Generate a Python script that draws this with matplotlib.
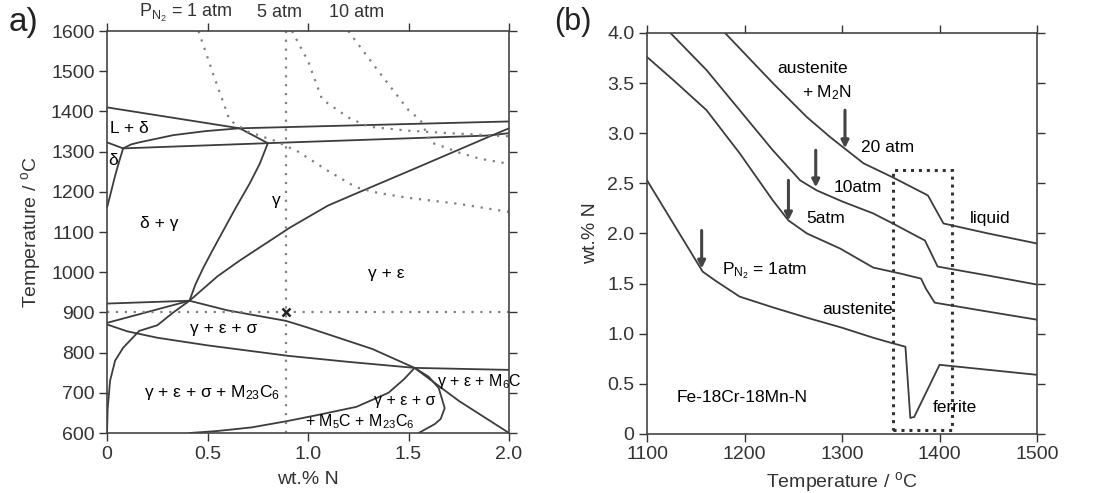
import numpy as np
import matplotlib.pyplot as plt
from matplotlib.patches import Rectangle

plt.rcParams['font.family'] = ['Liberation Sans', 'DejaVu Sans']
plt.rcParams['mathtext.fontset'] = 'custom'
plt.rcParams['mathtext.rm'] = 'Liberation Sans'
plt.rcParams['mathtext.it'] = 'Liberation Sans'

# ---------------- panel a) phase diagram, x = wt.% N, y = temperature ----------------
liq_x = [0, 0.66]
liq_T = [1410, 1358]
liq_right_x = [0.66, 2.0]
liq_right_T = [1358, 1375]
ld_low_x = [0.08, 0.12, 0.16, 0.33, 0.49, 0.66]
ld_low_T = [1308, 1318, 1323, 1341, 1351, 1358]
tri_x = [0.66, 0.80]
tri_T = [1358, 1321]
dtop_x = [0, 0.08]
dtop_T = [1323, 1308]
delta_x = [0, 0.02, 0.04, 0.06, 0.08]
delta_T = [1161, 1200, 1240, 1275, 1308]
sol_x = [0.08, 0.80, 1.90, 2.0]
sol_T = [1308, 1321, 1340, 1346]
dg_x = [0.80, 0.76, 0.71, 0.64, 0.57, 0.52, 0.48, 0.44, 0.41]
dg_T = [1321, 1270, 1221, 1160, 1096, 1050, 1012, 970, 929]
ge_x = [0.41, 0.55, 0.66, 0.91, 1.10, 1.24, 1.56, 1.90, 2.0]
ge_T = [929, 990, 1029, 1111, 1166, 1196, 1264, 1337, 1358]
la_x = [0, 0.41]
la_T = [922, 929]
lb_x = [0, 0.41]
lb_T = [874, 929]
lc_x = [0, 0.1, 0.25, 0.5, 0.9, 1.2, 1.53, 2.0]
lc_T = [870, 853, 837, 818, 792, 777, 762, 757]
ld_x = [0.41, 0.6, 0.89, 1.0, 1.32, 1.53, 1.75, 2.0]
ld_T = [929, 905, 879, 862, 809, 762, 680, 600]
bl_x = [0, 0.003, 0.015, 0.04, 0.08, 0.16, 0.25, 0.33, 0.41]
bl_T = [600, 660, 730, 780, 812, 854, 868, 900, 929]
lens_x = [0.41, 0.55, 0.72, 0.9, 1.05, 1.24, 1.40, 1.48, 1.53]
lens_T = [600, 605, 614, 630, 645, 665, 700, 735, 762]
loop_x = [1.53, 1.60, 1.65, 1.68, 1.66, 1.63, 1.55]
loop_T = [762, 740, 712, 662, 635, 622, 600]

# nitrogen isobars (dotted)
p1_x = [0.455, 0.53, 0.61, 0.70, 0.84, 0.95, 1.10, 1.24, 1.35, 1.5, 1.75, 2.0]
p1_T = [1600, 1490, 1378, 1350, 1326, 1300, 1252, 1211, 1197, 1185, 1170, 1150]
p5_x = [0.92, 1.0, 1.07, 1.2, 1.3, 1.5, 1.7, 2.0]
p5_T = [1600, 1525, 1430, 1385, 1362, 1352, 1346, 1338]
p10_x = [1.20, 1.35, 1.50, 1.56, 1.61, 1.68, 1.76, 1.85, 1.96, 2.0]
p10_T = [1600, 1500, 1403, 1378, 1323, 1311, 1296, 1283, 1273, 1270]
x_cut = 0.89
T_cut = 900

# ---------------- panel (b) solubility, x = temperature, y = wt.% N ----------------
c1_T = [1100, 1157, 1170, 1195, 1230, 1264, 1300, 1332, 1350, 1365, 1370, 1374, 1400, 1450, 1500]
c1_N = [2.53, 1.62, 1.53, 1.37, 1.26, 1.16, 1.06, 0.96, 0.91, 0.87, 0.16, 0.17, 0.69, 0.64, 0.59]
c5_T = [1100, 1127, 1161, 1195, 1229, 1245, 1264, 1298, 1332, 1360, 1381, 1386, 1395, 1450, 1500]
c5_N = [3.76, 3.53, 3.23, 2.80, 2.33, 2.13, 2.00, 1.85, 1.66, 1.60, 1.55, 1.45, 1.31, 1.22, 1.14]
c10_T = [1124, 1161, 1195, 1229, 1257, 1274, 1300, 1332, 1352, 1385, 1398, 1450, 1500]
c10_N = [4.0, 3.63, 3.23, 2.83, 2.53, 2.43, 2.32, 2.20, 2.10, 1.93, 1.67, 1.58, 1.49]
c20_T = [1180, 1229, 1264, 1288, 1305, 1322, 1352, 1388, 1404, 1450, 1500]
c20_N = [4.0, 3.50, 3.16, 2.96, 2.83, 2.70, 2.56, 2.38, 2.10, 2.00, 1.90]
arrow_T = [1156, 1245, 1273, 1303]
arrow_top = [2.03, 2.53, 2.83, 3.23]
arrow_tip = [1.65, 2.13, 2.46, 2.85]
box_T = [1352, 1413]
box_N = [0.04, 2.63]

LC = '#3c3c3c'
DC = '#808080'
dots = (0, (1, 3))

fig = plt.figure(figsize=(10.98, 4.93), dpi=100)
axa = fig.add_axes([0.0975, 0.1217, 0.3661, 0.8154])
axb = fig.add_axes([0.5893, 0.1197, 0.3552, 0.8134])

for ax in (axa, axb):
    ax.tick_params(direction='out', length=6, width=1, top=True, right=True,
                   labelsize=14, pad=3, colors='#333333')
    for s in ax.spines.values():
        s.set_color('#444444')
        s.set_linewidth(1.2)

# --- panel a
solid = [(liq_x, liq_T), (liq_right_x, liq_right_T), (ld_low_x, ld_low_T), (tri_x, tri_T),
         (dtop_x, dtop_T), (delta_x, delta_T), (sol_x, sol_T), (dg_x, dg_T), (ge_x, ge_T),
         (la_x, la_T), (lb_x, lb_T), (lc_x, lc_T), (ld_x, ld_T), (bl_x, bl_T),
         (lens_x, lens_T), (loop_x, loop_T)]
for xs, ts in solid:
    axa.plot(xs, ts, color=LC, lw=1.3, solid_capstyle='round')
for xs, ts in [(p1_x, p1_T), (p5_x, p5_T), (p10_x, p10_T)]:
    axa.plot(xs, ts, color=DC, lw=1.6, ls=dots)
axa.plot([x_cut, x_cut], [600, 1600], color=DC, lw=1.6, ls=dots)
axa.plot([0, 2], [T_cut, T_cut], color=DC, lw=1.6, ls=dots)
axa.plot([x_cut], [T_cut], marker='x', color='#222222', ms=6, mew=1.8)

axa.set_xlim(0, 2)
axa.set_ylim(600, 1600)
axa.set_xticks([0, 0.5, 1.0, 1.5, 2.0])
axa.set_xticklabels(['0', '0.5', '1.0', '1.5', '2.0'])
axa.set_yticks(np.arange(600, 1601, 100))
axa.set_xlabel('wt.% N', fontsize=14, color='#333333', labelpad=6)
axa.set_ylabel('Temperature / $^{o}$C', fontsize=14, color='#333333', labelpad=6)

fs = 12.5
axa.text(0.11, 1358, 'L + δ', fontsize=fs, ha='center', va='center')
axa.text(0.03, 1278, 'δ', fontsize=fs, ha='center', va='center')
axa.text(0.26, 1121, 'δ + γ', fontsize=fs, ha='center', va='center')
axa.text(0.84, 1179, 'γ', fontsize=fs, ha='center', va='center')
axa.text(1.39, 997, 'γ + ε', fontsize=fs, ha='center', va='center')
axa.text(0.58, 860, 'γ + ε + σ', fontsize=fs, ha='center', va='center')
axa.text(0.52, 700, 'γ + ε + σ + M$_{23}$C$_6$', fontsize=fs, ha='center', va='center')
axa.text(1.48, 682, 'γ + ε + σ', fontsize=11.5, ha='center', va='center')
axa.text(1.26, 628, '+ M$_5$C + M$_{23}$C$_6$', fontsize=11.5, ha='center', va='center')
axa.text(1.85, 727, 'γ + ε + M$_6$C', fontsize=11.5, ha='center', va='center', clip_on=False)

axa.text(0.39, 1.045, 'P$_{N_2}$ = 1 atm', fontsize=13, ha='center', va='center',
         transform=axa.get_xaxis_transform(), color='#333333')
axa.text(0.86, 1.045, '5 atm', fontsize=13, ha='center', va='center',
         transform=axa.get_xaxis_transform(), color='#333333')
axa.text(1.24, 1.045, '10 atm', fontsize=13, ha='center', va='center',
         transform=axa.get_xaxis_transform(), color='#333333')

# --- panel b
for ts, ns in [(c1_T, c1_N), (c5_T, c5_N), (c10_T, c10_N), (c20_T, c20_N)]:
    axb.plot(ts, ns, color=LC, lw=1.3)
for t, a0, a1 in zip(arrow_T, arrow_top, arrow_tip):
    axb.annotate('', xy=(t, a1), xytext=(t, a0),
                 arrowprops=dict(arrowstyle='-|>', color='#444444', lw=2.2,
                                 mutation_scale=11, shrinkA=0, shrinkB=0))
axb.add_patch(Rectangle((box_T[0], box_N[0]), box_T[1] - box_T[0], box_N[1] - box_N[0],
                        fill=False, ec='#333333', lw=2.2, ls=(0, (1, 1.6))))

axb.set_xlim(1100, 1500)
axb.set_ylim(0, 4)
axb.set_xticks([1100, 1200, 1300, 1400, 1500])
axb.set_yticks(np.arange(0, 4.01, 0.5))
axb.set_yticklabels(['0', '0.5', '1.0', '1.5', '2.0', '2.5', '3.0', '3.5', '4.0'])
axb.set_xlabel('Temperature / $^{o}$C', fontsize=14, color='#333333', labelpad=5)
axb.set_ylabel('wt.% N', fontsize=14, color='#333333', labelpad=6)

fb = 12.5
axb.text(1270, 3.65, 'austenite', fontsize=fb, ha='center', va='center')
axb.text(1285, 3.40, '+ M$_2$N', fontsize=fb, ha='center', va='center')
axb.text(1347, 2.86, '20 atm', fontsize=fb, ha='center', va='center')
axb.text(1316, 2.46, '10atm', fontsize=fb, ha='center', va='center')
axb.text(1283, 2.15, '5atm', fontsize=fb, ha='center', va='center')
axb.text(1452, 2.15, 'liquid', fontsize=fb, ha='center', va='center')
axb.text(1221, 1.63, 'P$_{N_2}$ = 1atm', fontsize=fb, ha='center', va='center')
axb.text(1316, 1.24, 'austenite', fontsize=fb, ha='center', va='center')
axb.text(1197, 0.36, 'Fe-18Cr-18Mn-N', fontsize=fb, ha='center', va='center')
axb.text(1416, 0.26, 'ferrite', fontsize=fb, ha='center', va='center')

fig.text(0.021, 0.955, 'a)', fontsize=24, ha='center', va='center', color='#222222')
fig.text(0.522, 0.955, '(b)', fontsize=22, ha='center', va='center', color='#222222')

fig.savefig('out.png', dpi=100, facecolor='white')
